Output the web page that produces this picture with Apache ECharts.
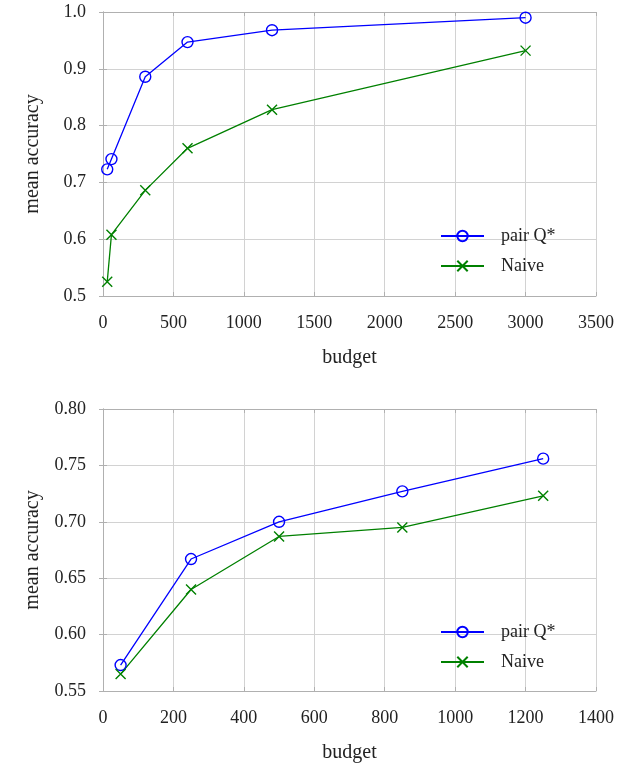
<!DOCTYPE html>
<html>
<head>
<meta charset="utf-8">
<script src="https://cdn.jsdelivr.net/npm/echarts@6/dist/echarts.min.js"></script>
<style>
html,body{margin:0;padding:0;background:#fff;}
#c{width:630px;height:764px;}
</style>
</head>
<body>
<div id="c"></div>
<script>
// ---- data ----
const topBudget = [30, 60, 300, 600, 1200, 3000];
const topPair   = [0.723, 0.741, 0.886, 0.947, 0.968, 0.990];
const topNaive  = [0.525, 0.608, 0.686, 0.760, 0.828, 0.932];

const botBudget = [50, 250, 500, 850, 1250];
const botPair   = [0.573, 0.667, 0.700, 0.727, 0.756];
const botNaive  = [0.565, 0.640, 0.687, 0.695, 0.723];

const seriesNames = ['pair Q*', 'Naive'];
const xName = 'budget';
const yName = 'mean accuracy';

// ---- styles ----
const FONT = '"Liberation Serif", "DejaVu Serif", serif';
const BLUE = '#0000ff';
const GREEN = '#008000';
const FRAME = '#b0b0b0';
const GRIDC = '#d2d2d2';
const CROSS = 'path://M0,0L10,10M10,0L0,10';

function zip(xs, ys){ return xs.map((x,i)=>[x, ys[i]]); }

function xAxes(gi, max, interval){
  return [
    {
      gridIndex: gi, type: 'value', min: 0, max: max, interval: interval,
      name: xName, nameLocation: 'middle', nameGap: 52,
      nameTextStyle: {fontFamily: FONT, fontSize: 20, color: '#222'},
      axisLine: {show: true, lineStyle: {color: FRAME, width: 1}},
      axisTick: {show: true, inside: true, length: 4, lineStyle: {color: FRAME}},
      axisLabel: {fontFamily: FONT, fontSize: 18, color: '#222', margin: 18,
                  formatter: v => String(v)},
      splitLine: {show: true, lineStyle: {color: GRIDC, width: 1}}
    },
    {
      gridIndex: gi, type: 'value', position: 'top', min: 0, max: max, interval: interval,
      axisLine: {show: true, lineStyle: {color: FRAME, width: 1}},
      axisTick: {show: true, inside: true, length: 4, lineStyle: {color: FRAME}},
      axisLabel: {show: false}, splitLine: {show: false}
    }
  ];
}
function yAxes(gi, min, max, interval, dec){
  return [
    {
      gridIndex: gi, type: 'value', min: min, max: max, interval: interval,
      name: yName, nameLocation: 'middle', nameGap: 60, nameRotate: 90,
      nameTextStyle: {fontFamily: FONT, fontSize: 20, color: '#222'},
      axisLine: {show: true, lineStyle: {color: FRAME, width: 1}},
      axisTick: {show: true, inside: true, length: 4, lineStyle: {color: FRAME}},
      axisLabel: {fontFamily: FONT, fontSize: 18, color: '#222', margin: 17,
                  formatter: v => v.toFixed(dec)},
      splitLine: {show: true, lineStyle: {color: GRIDC, width: 1}}
    },
    {
      gridIndex: gi, type: 'value', position: 'right', min: min, max: max, interval: interval,
      axisLine: {show: true, lineStyle: {color: FRAME, width: 1}},
      axisTick: {show: true, inside: true, length: 4, lineStyle: {color: FRAME}},
      axisLabel: {show: false}, splitLine: {show: false}
    }
  ];
}

function mkSeries(name, idx, data, color, symbol){
  return {
    name: name, type: 'line', xAxisIndex: idx, yAxisIndex: idx,
    data: data, color: color, symbol: symbol, symbolSize: symbol === CROSS ? 10 : 11,
    showAllSymbol: true,
    lineStyle: {color: color, width: 1.3},
    itemStyle: symbol === CROSS
      ? {color: color, borderColor: color, borderWidth: 1.4}
      : {color: 'rgba(255,255,255,0)', borderColor: color, borderWidth: 1.4},
    emphasis: {disabled: true},
    animation: false
  };
}

function legend(idx, top){
  return {
    show: true, orient: 'vertical', left: 440, top: top, padding: 0,
    itemWidth: 43, itemHeight: 13, itemGap: 8,
    textStyle: {fontFamily: FONT, fontSize: 18, color: '#222', lineHeight: 22, padding: [0,0,0,12]},
    data: [
      {name: seriesNames[0] + (idx ? ' ' : '')},
      {name: seriesNames[1] + (idx ? ' ' : '')}
    ]
  };
}

const chart = echarts.init(document.getElementById('c'), null, {renderer: 'canvas'});
chart.setOption({
  backgroundColor: '#fff',
  animation: false,
  grid: [
    {left: 103, top: 12, width: 493, height: 284},
    {left: 103, top: 409, width: 493, height: 283}
  ],
  xAxis: [...xAxes(0, 3500, 500), ...xAxes(1, 1400, 200)],
  yAxis: [...yAxes(0, 0.5, 1.0, 0.1, 1), ...yAxes(1, 0.55, 0.80, 0.05, 2)],
  legend: [legend(0, 225), legend(1, 621)],
  series: [
    mkSeries(seriesNames[0], 0, zip(topBudget, topPair), BLUE, 'circle'),
    mkSeries(seriesNames[1], 0, zip(topBudget, topNaive), GREEN, CROSS),
    mkSeries(seriesNames[0] + ' ', 2, zip(botBudget, botPair), BLUE, 'circle'),
    mkSeries(seriesNames[1] + ' ', 2, zip(botBudget, botNaive), GREEN, CROSS)
  ]
});
</script>
</body>
</html>
